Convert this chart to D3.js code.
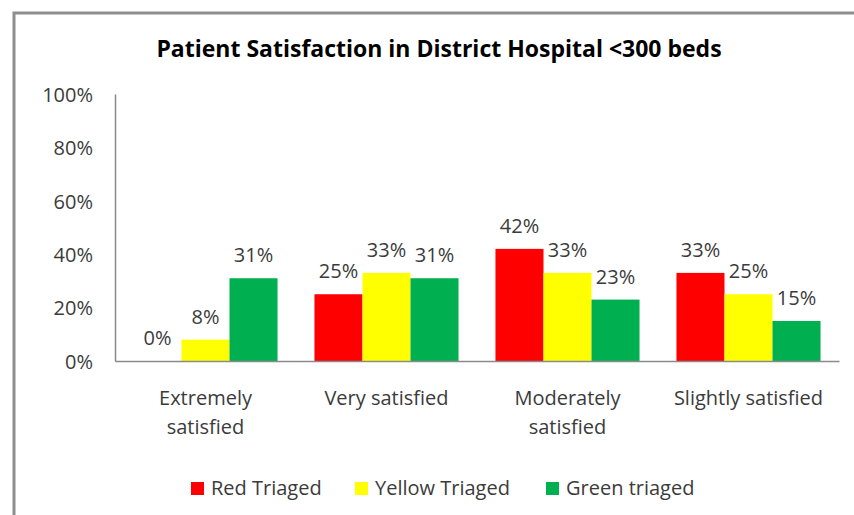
<!DOCTYPE html>
<html>
<head>
<meta charset="utf-8">
<script src="https://cdn.jsdelivr.net/npm/d3@7/dist/d3.min.js"></script>
<style>
  html, body { margin: 0; padding: 0; background: #fff; }
  svg { display: block; }
  text { font-family: "Open Sans", "DejaVu Sans", sans-serif; fill: #3b3b3b; }
</style>
</head>
<body>
<svg id="chart" width="854" height="515"></svg>
<script>
// Survey categories (multi-line labels) and shares per triage group
const categories = ["Extremely satisfied", "Very satisfied", "Moderately satisfied", "Slightly satisfied"];
const categoryLines = [["Extremely", "satisfied"], ["Very satisfied"], ["Moderately", "satisfied"], ["Slightly satisfied"]];
const seriesNames = ["Red Triaged", "Yellow Triaged", "Green triaged"];
const seriesColors = ["#ff0000", "#ffff00", "#00b050"];
const redValues = [0, 25, 42, 33];
const yellowValues = [8, 33, 33, 25];
const greenValues = [31, 31, 23, 15];
const yTicks = [0, 20, 40, 60, 80, 100];
const titleText = "Patient Satisfaction in District Hospital <300 beds";

const series = [redValues, yellowValues, greenValues];

const svg = d3.select("#chart");

// Chart frame (runs off the right and bottom edges)
svg.append("rect")
  .attr("x", 14).attr("y", 13)
  .attr("width", 1000).attr("height", 1000)
  .attr("fill", "none")
  .attr("stroke", "#8e8e8e")
  .attr("stroke-width", 3);

const plot = { left: 115, right: 839, top: 94, bottom: 361 };

const x = d3.scaleBand()
  .domain(categories)
  .range([plot.left, plot.right])
  .paddingInner(0.204)
  .paddingOuter(0.102);

const xs = d3.scaleBand()
  .domain(d3.range(seriesNames.length))
  .range([0, x.bandwidth()]);

const y = d3.scaleLinear().domain([0, 100]).range([plot.bottom, plot.top]);

// Title
svg.append("text")
  .attr("x", 439).attr("y", 57)
  .attr("text-anchor", "middle")
  .attr("font-size", 23)
  .attr("font-weight", "bold")
  .style("fill", "#000")
  .text(titleText);

// Y axis
const yAxis = d3.axisLeft(y)
  .tickValues(yTicks)
  .tickSize(0)
  .tickPadding(22)
  .tickFormat(d => d + "%");
const gy = svg.append("g").attr("transform", `translate(${plot.left},0)`).call(yAxis);
gy.select(".domain").attr("stroke", "#8a8a8a").attr("stroke-width", 1.5);
gy.selectAll(".tick text")
  .attr("font-size", 20)
  .attr("font-family", null)
  .attr("dy", "0.36em")
  .style("fill", "#3b3b3b");

// Bars
const groups = svg.append("g").selectAll("g")
  .data(categories)
  .join("g")
  .attr("transform", d => `translate(${x(d)},0)`);

groups.selectAll("rect")
  .data((c, i) => series.map((s, k) => ({ k, v: s[i] })))
  .join("rect")
  .attr("x", d => xs(d.k))
  .attr("width", xs.bandwidth())
  .attr("y", d => y(d.v))
  .attr("height", d => y(0) - y(d.v))
  .attr("fill", d => seriesColors[d.k]);

groups.selectAll("text.val")
  .data((c, i) => series.map((s, k) => ({ k, v: s[i] })))
  .join("text")
  .attr("class", "val")
  .attr("x", d => xs(d.k) + xs.bandwidth() / 2)
  .attr("y", d => y(d.v) - 16)
  .attr("text-anchor", "middle")
  .attr("font-size", 20)
  .text(d => d.v + "%");

// X axis baseline
const xAxis = d3.axisBottom(x).tickSize(0).tickFormat("");
const gx = svg.append("g").attr("transform", `translate(0,${plot.bottom})`).call(xAxis);
gx.select(".domain").attr("stroke", "#8a8a8a").attr("stroke-width", 1.5);

// Category labels
categories.forEach((c, i) => {
  const t = svg.append("text")
    .attr("x", x(c) + x.bandwidth() / 2)
    .attr("y", 405)
    .attr("text-anchor", "middle")
    .attr("font-size", 20);
  categoryLines[i].forEach((line, j) => {
    t.append("tspan")
      .attr("x", x(c) + x.bandwidth() / 2)
      .attr("dy", j === 0 ? 0 : 29)
      .text(line);
  });
});

// Legend
const legendX = [191, 355, 546];
const legend = svg.append("g");
seriesNames.forEach((name, k) => {
  legend.append("rect")
    .attr("x", legendX[k]).attr("y", 482)
    .attr("width", 13).attr("height", 13)
    .attr("fill", seriesColors[k]);
  legend.append("text")
    .attr("x", legendX[k] + 20).attr("y", 495)
    .attr("font-size", 20)
    .text(name);
});
</script>
</body>
</html>
